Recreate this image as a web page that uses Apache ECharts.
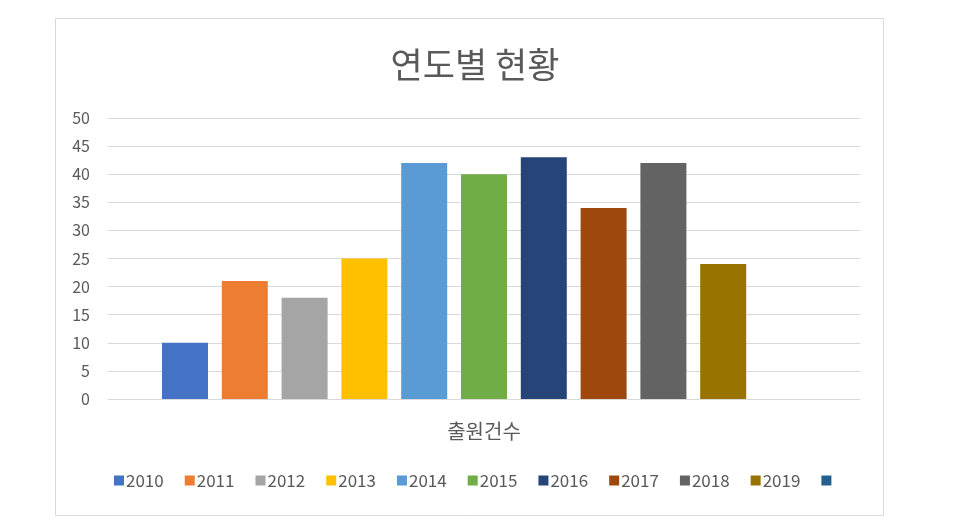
<!DOCTYPE html>
<html><head><meta charset="utf-8">
<script src="https://cdn.jsdelivr.net/npm/echarts@6/dist/echarts.min.js"></script>
<style>html,body{margin:0;padding:0;background:#fff}#c{width:970px;height:525px}</style>
</head><body><div id="c"></div>
<script>
const title = '연도별 현황';
const categories = ['출원건수'];
const seriesNames = ['2010','2011','2012','2013','2014','2015','2016','2017','2018','2019',' '];
const seriesValues = [10, 21, 18, 25, 42, 40, 43, 34, 42, 24, null];
const seriesColors = ['#4472C4','#ED7D31','#A5A5A5','#FFC000','#5B9BD5','#70AD47','#264478','#9E480E','#636363','#997300','#255E91'];
const yTicks = [0, 5, 10, 15, 20, 25, 30, 35, 40, 45, 50];

const font = '"Noto Sans CJK KR", "Noto Sans", sans-serif';
const chart = echarts.init(document.getElementById('c'), null, {renderer: 'canvas'});
chart.setOption({
  animation: false,
  backgroundColor: '#fff',
  textStyle: {fontFamily: font},
  graphic: [{
    type: 'rect', shape: {x: 55.5, y: 18.5, width: 828, height: 497},
    style: {fill: 'none', stroke: '#d9d9d9', lineWidth: 1}, silent: true
  }],
  title: {
    text: title, left: 470, top: 42, textAlign: 'center',
    textStyle: {fontFamily: font, fontSize: 35, fontWeight: 'normal', color: '#595959'}
  },
  legend: {
    data: seriesNames, top: 467, left: 109,
    itemWidth: 10, itemHeight: 10, itemGap: 21, icon: 'rect',
    textStyle: {fontFamily: font, fontSize: 17, color: '#595959', padding: [0,0,0,-3]}
  },
  grid: {left: 108, right: 110, top: 118, bottom: 126},
  xAxis: {
    type: 'category', data: categories,
    axisLine: {lineStyle: {color: '#d9d9d9'}}, axisTick: {show: false},
    axisLabel: {fontFamily: font, fontSize: 20, color: '#595959', margin: 22}
  },
  yAxis: {
    type: 'value', min: yTicks[0], max: yTicks[yTicks.length-1], interval: yTicks[1]-yTicks[0],
    axisLine: {show: false}, axisTick: {show: false},
    axisLabel: {fontFamily: font, fontSize: 16, color: '#595959', margin: 18},
    splitLine: {lineStyle: {color: '#d9d9d9', width: 1}}
  },
  series: seriesNames.map((n, i) => ({
    type: 'bar', name: n, data: [seriesValues[i]],
    barWidth: 46, barGap: '30%',
    itemStyle: {color: seriesColors[i]}
  }))
});
</script></body></html>
